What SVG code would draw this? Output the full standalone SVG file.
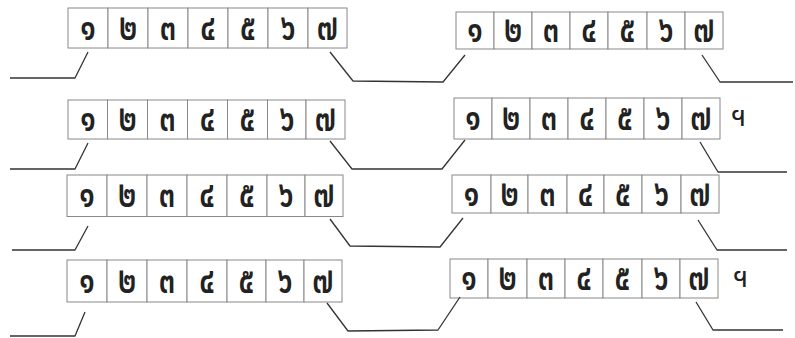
<svg xmlns="http://www.w3.org/2000/svg" width="795" height="338" viewBox="0 0 795 338">
<style>
.cell{fill:#fff;stroke:#888;stroke-width:1}
.d{font-family:"Noto Sans Thai","Noto Sans",sans-serif;font-size:38px;font-weight:600;fill:#222;text-anchor:middle;dominant-baseline:central}
.m{font-family:"Noto Sans Thai","Noto Sans",sans-serif;font-size:28px;fill:#222;text-anchor:middle;dominant-baseline:central}
.c{fill:none;stroke:#333;stroke-width:1.3;stroke-linejoin:round}
</style>
<rect width="795" height="338" fill="#fff"/>
<g id="row1-left">
<rect class="cell" x="68" y="8" width="40" height="40"/><rect class="cell" x="108" y="8" width="40" height="40"/><rect class="cell" x="148" y="8" width="40" height="40"/><rect class="cell" x="188" y="8" width="40" height="40"/><rect class="cell" x="228" y="8" width="40" height="40"/><rect class="cell" x="268" y="8" width="40" height="40"/><rect class="cell" x="308" y="8" width="39" height="40"/>
<text class="d" transform="translate(88,28) scale(.76,1)">๑</text><text class="d" transform="translate(128,28) scale(.76,1)">๒</text><text class="d" transform="translate(168,28) scale(.76,1)">๓</text><text class="d" transform="translate(208,28) scale(.76,1)">๔</text><text class="d" transform="translate(248,28) scale(.76,1)">๕</text><text class="d" transform="translate(288,28) scale(.76,1)">๖</text><text class="d" transform="translate(327.5,28) scale(.76,1)">๗</text>
</g>
<g id="row1-right">
<rect class="cell" x="456" y="12" width="38" height="37"/><rect class="cell" x="494" y="12" width="38" height="37"/><rect class="cell" x="532" y="12" width="38" height="37"/><rect class="cell" x="570" y="12" width="38" height="37"/><rect class="cell" x="608" y="12" width="39" height="37"/><rect class="cell" x="647" y="12" width="38" height="37"/><rect class="cell" x="685" y="12" width="38" height="37"/>
<text class="d" transform="translate(475,30.5) scale(.76,1)">๑</text><text class="d" transform="translate(513,30.5) scale(.76,1)">๒</text><text class="d" transform="translate(551,30.5) scale(.76,1)">๓</text><text class="d" transform="translate(589,30.5) scale(.76,1)">๔</text><text class="d" transform="translate(627.5,30.5) scale(.76,1)">๕</text><text class="d" transform="translate(666,30.5) scale(.76,1)">๖</text><text class="d" transform="translate(704,30.5) scale(.76,1)">๗</text>
</g>
<g id="row2-left">
<rect class="cell" x="68" y="100" width="39.5" height="39"/><rect class="cell" x="107.5" y="100" width="40" height="39"/><rect class="cell" x="147.5" y="100" width="40" height="39"/><rect class="cell" x="187.5" y="100" width="40" height="39"/><rect class="cell" x="227.5" y="100" width="40" height="39"/><rect class="cell" x="267.5" y="100" width="38.5" height="39"/><rect class="cell" x="306" y="100" width="39" height="39"/>
<text class="d" transform="translate(88,119.5) scale(.76,1)">๑</text><text class="d" transform="translate(127.5,119.5) scale(.76,1)">๒</text><text class="d" transform="translate(167.5,119.5) scale(.76,1)">๓</text><text class="d" transform="translate(207.5,119.5) scale(.76,1)">๔</text><text class="d" transform="translate(247.5,119.5) scale(.76,1)">๕</text><text class="d" transform="translate(287,119.5) scale(.76,1)">๖</text><text class="d" transform="translate(325.5,119.5) scale(.76,1)">๗</text>
</g>
<g id="row2-right">
<rect class="cell" x="454" y="98" width="38" height="41"/><rect class="cell" x="492" y="98" width="38" height="41"/><rect class="cell" x="530" y="98" width="38" height="41"/><rect class="cell" x="568" y="98" width="38" height="41"/><rect class="cell" x="606" y="98" width="38" height="41"/><rect class="cell" x="644" y="98" width="38" height="41"/><rect class="cell" x="682" y="98" width="38" height="41"/>
<text class="d" transform="translate(473,118.5) scale(.76,1)">๑</text><text class="d" transform="translate(511,118.5) scale(.76,1)">๒</text><text class="d" transform="translate(549,118.5) scale(.76,1)">๓</text><text class="d" transform="translate(587,118.5) scale(.76,1)">๔</text><text class="d" transform="translate(625,118.5) scale(.76,1)">๕</text><text class="d" transform="translate(663,118.5) scale(.76,1)">๖</text><text class="d" transform="translate(701,118.5) scale(.76,1)">๗</text>
<text class="m" x="739" y="117">ฯ</text>
</g>
<g id="row3-left">
<rect class="cell" x="67" y="175" width="40" height="41.5"/><rect class="cell" x="107" y="175" width="40" height="41.5"/><rect class="cell" x="147" y="175" width="40" height="41.5"/><rect class="cell" x="187" y="175" width="40" height="41.5"/><rect class="cell" x="227" y="175" width="40" height="41.5"/><rect class="cell" x="267" y="175" width="38" height="41.5"/><rect class="cell" x="305" y="175" width="38" height="41.5"/>
<text class="d" transform="translate(87,195.5) scale(.76,1)">๑</text><text class="d" transform="translate(127,195.5) scale(.76,1)">๒</text><text class="d" transform="translate(167,195.5) scale(.76,1)">๓</text><text class="d" transform="translate(207,195.5) scale(.76,1)">๔</text><text class="d" transform="translate(247,195.5) scale(.76,1)">๕</text><text class="d" transform="translate(286,195.5) scale(.76,1)">๖</text><text class="d" transform="translate(324,195.5) scale(.76,1)">๗</text>
</g>
<g id="row3-right">
<rect class="cell" x="452" y="175" width="39" height="38"/><rect class="cell" x="491" y="175" width="37" height="38"/><rect class="cell" x="528" y="175" width="39" height="38"/><rect class="cell" x="567" y="175" width="37" height="38"/><rect class="cell" x="604" y="175" width="38" height="38"/><rect class="cell" x="642" y="175" width="39" height="38"/><rect class="cell" x="681" y="175" width="38" height="38"/>
<text class="d" transform="translate(471.5,194) scale(.76,1)">๑</text><text class="d" transform="translate(509.5,194) scale(.76,1)">๒</text><text class="d" transform="translate(547.5,194) scale(.76,1)">๓</text><text class="d" transform="translate(585.5,194) scale(.76,1)">๔</text><text class="d" transform="translate(623,194) scale(.76,1)">๕</text><text class="d" transform="translate(661.5,194) scale(.76,1)">๖</text><text class="d" transform="translate(700,194) scale(.76,1)">๗</text>
</g>
<g id="row4-left">
<rect class="cell" x="67" y="260" width="40" height="42"/><rect class="cell" x="107" y="260" width="40" height="42"/><rect class="cell" x="147" y="260" width="40" height="42"/><rect class="cell" x="187" y="260" width="40" height="42"/><rect class="cell" x="227" y="260" width="39" height="42"/><rect class="cell" x="266" y="260" width="38" height="42"/><rect class="cell" x="304" y="260" width="38" height="42"/>
<text class="d" transform="translate(87,281) scale(.76,1)">๑</text><text class="d" transform="translate(127,281) scale(.76,1)">๒</text><text class="d" transform="translate(167,281) scale(.76,1)">๓</text><text class="d" transform="translate(207,281) scale(.76,1)">๔</text><text class="d" transform="translate(246.5,281) scale(.76,1)">๕</text><text class="d" transform="translate(285,281) scale(.76,1)">๖</text><text class="d" transform="translate(323,281) scale(.76,1)">๗</text>
</g>
<g id="row4-right">
<rect class="cell" x="450" y="259" width="38" height="39"/><rect class="cell" x="488" y="259" width="39" height="39"/><rect class="cell" x="527" y="259" width="38" height="39"/><rect class="cell" x="565" y="259" width="38" height="39"/><rect class="cell" x="603" y="259" width="39" height="39"/><rect class="cell" x="642" y="259" width="38" height="39"/><rect class="cell" x="680" y="259" width="38" height="39"/>
<text class="d" transform="translate(469,278.5) scale(.76,1)">๑</text><text class="d" transform="translate(507.5,278.5) scale(.76,1)">๒</text><text class="d" transform="translate(546,278.5) scale(.76,1)">๓</text><text class="d" transform="translate(584,278.5) scale(.76,1)">๔</text><text class="d" transform="translate(622.5,278.5) scale(.76,1)">๕</text><text class="d" transform="translate(661,278.5) scale(.76,1)">๖</text><text class="d" transform="translate(699,278.5) scale(.76,1)">๗</text>
<text class="m" x="741" y="278">ฯ</text>
</g>
<g id="connectors">
<polyline class="c" points="10,78 75,78 88,52"/>
<polyline class="c" points="330,52 353,81 443,82 465,55"/>
<polyline class="c" points="702,55 720,82 793,82"/>
<polyline class="c" points="10,169 75,169 88,143"/>
<polyline class="c" points="330,141 352,169 442,169 465,140"/>
<polyline class="c" points="700,142 718,172 787,172"/>
<polyline class="c" points="12,250 75,250 88,226"/>
<polyline class="c" points="330,219 350,246 440,247 463,218"/>
<polyline class="c" points="698,220 717,250 787,250"/>
<polyline class="c" points="10,336 75,336 85,312"/>
<polyline class="c" points="327,303 348,331 438,330 460,297"/>
<polyline class="c" points="696,302 713,330 783,330"/>
</g>
</svg>
